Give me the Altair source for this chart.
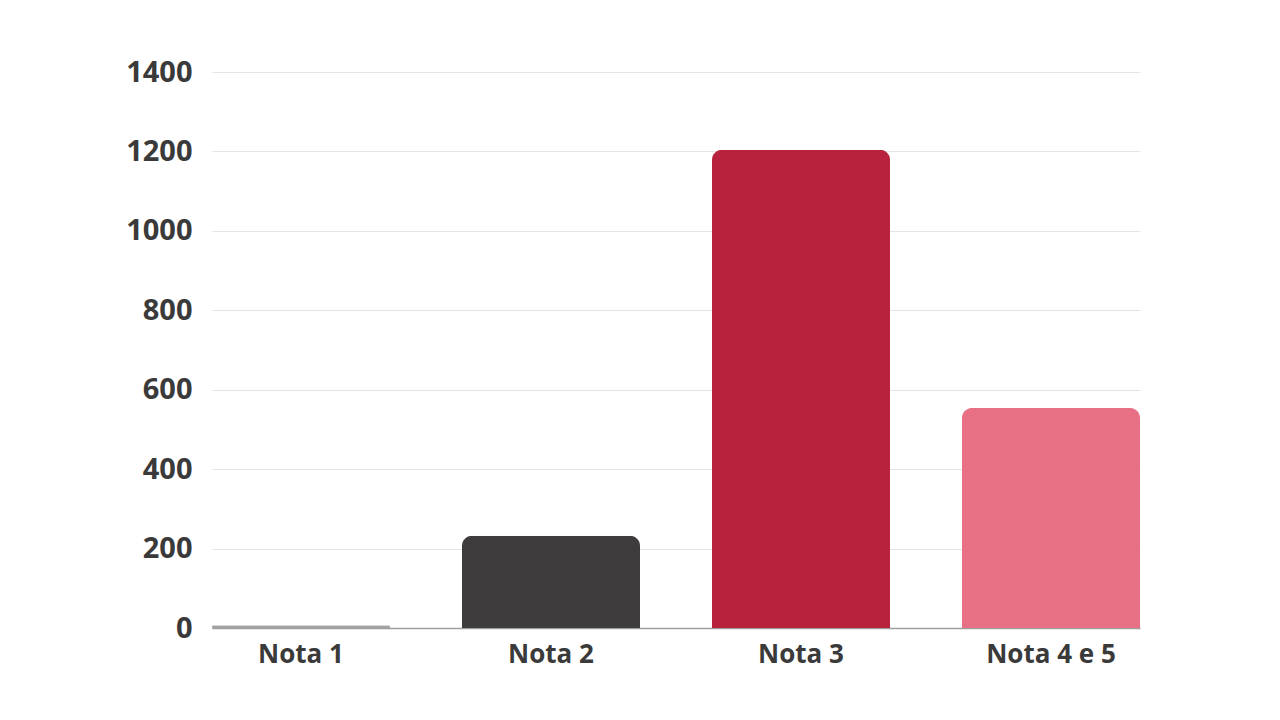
import altair as alt
import pandas as pd

# Data
categories = ["Nota 1", "Nota 2", "Nota 3", "Nota 4 e 5"]
values = [7, 232, 1204, 554]
bar_colors = ["#a3a3a3", "#3d3b3c", "#b8223d", "#e87085"]

df = pd.DataFrame({"nota": categories, "total": values})

color_scale = alt.Scale(domain=categories, range=bar_colors)

bars = alt.Chart(df).mark_bar(
    cornerRadiusTopLeft=10,
    cornerRadiusTopRight=10
).encode(
    x=alt.X(
        "nota:N",
        sort=categories,
        title=None,
        scale=alt.Scale(paddingInner=0.288, paddingOuter=0),
        axis=alt.Axis(
            labelAngle=0,
            ticks=False,
            domain=True,
            domainColor="#9e9e9e",
            domainWidth=1.5,
            labelPadding=13,
            labelFontSize=26,
            labelFontWeight="bold",
            labelColor="#3a3a3a",
            grid=False
        )
    ),
    y=alt.Y(
        "total:Q",
        title=None,
        scale=alt.Scale(domain=[0, 1400]),
        axis=alt.Axis(
            values=[0, 200, 400, 600, 800, 1000, 1200, 1400],
            format="d",
            ticks=False,
            domain=False,
            labelPadding=20,
            labelFontSize=29,
            labelFontWeight="bold",
            labelColor="#3a3a3a",
            labelBaseline="middle",
            gridColor="#e4e4e4",
            gridWidth=1
        )
    ),
    color=alt.Color("nota:N", scale=color_scale, legend=None)
).properties(
    width=928,
    height=556,
    padding={"left": 204, "top": 64, "right": 10, "bottom": 80},
    autosize=alt.AutoSizeParams(type="none")
)

chart = bars.configure(
    font="Open Sans"
).configure_view(
    stroke=None
)

chart.save("out.html", embed_options={"renderer": "svg", "actions": False})
